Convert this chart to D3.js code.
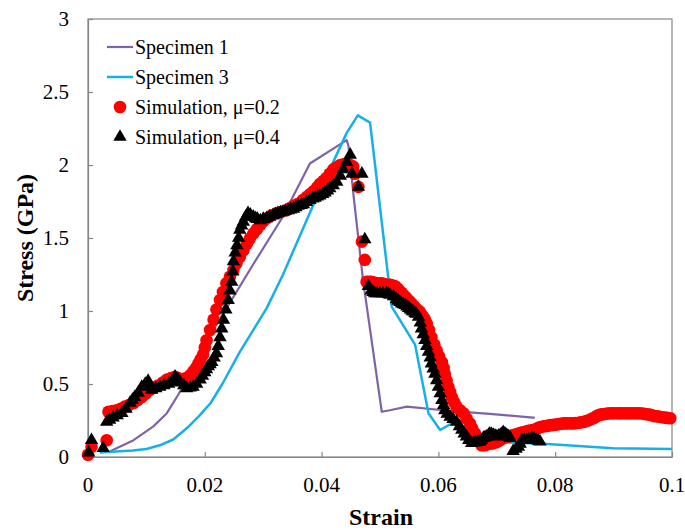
<!DOCTYPE html>
<html><head><meta charset="utf-8">
<script src="https://cdn.jsdelivr.net/npm/d3@7"></script>
<style>body{margin:0;background:#fff}svg{display:block}</style>
</head><body><svg id="c" width="685" height="530"></svg>
<script>
const xTicks=[0,0.02,0.04,0.06,0.08,0.1];
const xTickLabels=["0","0.02","0.04","0.06","0.08","0.1"];
const yTicks=[0,0.5,1,1.5,2,2.5,3];
const yTickLabels=["0","0.5","1","1.5","2","2.5","3"];
const seriesNames=["Specimen 1","Specimen 3","Simulation, \u03bc=0.2","Simulation, \u03bc=0.4"];

const spec1Strain=[0.0038,0.0078,0.0112,0.0135,0.0155,0.018,0.0211,0.0248,0.0283,0.0332,0.038,0.0443,0.0446,0.0455,0.0471,0.0503,0.0517,0.0546,0.0608,0.0688,0.0762,0.0765];
const spec1Stress=[0.04,0.115,0.21,0.30,0.43,0.61,0.85,1.09,1.32,1.635,2.01,2.17,2.13,1.78,1.21,0.31,0.32,0.345,0.32,0.295,0.27,0.27];

const spec3Strain=[0.002,0.004,0.0077,0.01,0.0123,0.0146,0.017,0.019,0.021,0.023,0.026,0.0306,0.0334,0.0385,0.0443,0.0462,0.0483,0.052,0.056,0.0583,0.0603,0.0623,0.0645,0.067,0.072,0.078,0.0899,0.1];
const spec3Stress=[0.03,0.036,0.045,0.055,0.08,0.12,0.2,0.28,0.37,0.5,0.72,1.02,1.25,1.72,2.22,2.34,2.29,1.03,0.77,0.30,0.185,0.23,0.2,0.12,0.1,0.09,0.06,0.055];

const sim02Strain=[0.0,0.0006,0.0032,0.0035,0.0042,0.0049,0.0056,0.0063,0.007,0.0078,0.0085,0.0092,0.0099,0.0106,0.0113,0.012,0.0128,0.0135,0.0142,0.0149,0.0154,0.0158,0.0164,0.0169,0.0175,0.018,0.0185,0.0189,0.0193,0.0197,0.02,0.0203,0.0209,0.0215,0.022,0.0226,0.0231,0.0237,0.0243,0.0249,0.0254,0.026,0.0266,0.0272,0.0277,0.0283,0.0289,0.0295,0.03,0.0306,0.0314,0.0323,0.0331,0.034,0.0346,0.0352,0.0358,0.0363,0.0368,0.0374,0.038,0.0386,0.0392,0.0397,0.0403,0.0408,0.0414,0.042,0.0426,0.0432,0.0437,0.0443,0.0449,0.0454,0.0457,0.0463,0.0469,0.0474,0.0477,0.0481,0.0485,0.049,0.0494,0.0498,0.0503,0.0507,0.0511,0.0515,0.0518,0.0522,0.0526,0.053,0.0533,0.0537,0.054,0.0544,0.0547,0.0551,0.0554,0.0558,0.0561,0.0565,0.0568,0.0571,0.0574,0.0577,0.058,0.0584,0.0588,0.0593,0.0597,0.0601,0.0606,0.0609,0.0611,0.0614,0.0617,0.062,0.0623,0.0627,0.0631,0.0637,0.0643,0.0648,0.0654,0.0658,0.0663,0.0668,0.0674,0.068,0.0686,0.069,0.0694,0.0699,0.0703,0.0707,0.0711,0.0716,0.072,0.0724,0.0728,0.0733,0.0737,0.0741,0.0745,0.075,0.0754,0.0758,0.0762,0.0767,0.0771,0.0775,0.078,0.0784,0.0788,0.0792,0.0797,0.0801,0.0806,0.081,0.0814,0.0818,0.0822,0.0827,0.0831,0.0835,0.084,0.0844,0.0848,0.0852,0.0856,0.0861,0.0865,0.0868,0.0871,0.0874,0.0877,0.0881,0.0885,0.0889,0.0894,0.0898,0.0902,0.0907,0.0911,0.0915,0.092,0.0924,0.0928,0.0932,0.0937,0.0941,0.0945,0.095,0.0954,0.0958,0.0962,0.0966,0.097,0.0975,0.0979,0.0984,0.0988,0.0992,0.0997];
const sim02Stress=[0.015,0.07,0.115,0.31,0.315,0.32,0.33,0.345,0.355,0.37,0.39,0.41,0.435,0.46,0.475,0.49,0.51,0.53,0.54,0.55,0.54,0.53,0.535,0.54,0.56,0.585,0.61,0.64,0.67,0.70,0.75,0.80,0.87,0.94,1.01,1.075,1.13,1.19,1.235,1.28,1.325,1.37,1.415,1.46,1.495,1.53,1.56,1.59,1.615,1.635,1.655,1.67,1.68,1.69,1.705,1.72,1.73,1.74,1.76,1.78,1.80,1.82,1.845,1.87,1.89,1.91,1.94,1.97,1.985,2.0,2.005,2.01,2.0,1.99,1.94,1.85,1.475,1.35,1.20,1.20,1.20,1.195,1.19,1.19,1.19,1.185,1.18,1.18,1.18,1.175,1.17,1.155,1.14,1.125,1.11,1.095,1.08,1.065,1.05,1.035,1.02,1.005,0.995,0.975,0.96,0.94,0.915,0.87,0.82,0.77,0.73,0.69,0.65,0.61,0.57,0.525,0.48,0.445,0.41,0.375,0.345,0.32,0.30,0.265,0.23,0.195,0.16,0.12,0.08,0.08,0.09,0.092,0.095,0.10,0.11,0.12,0.13,0.135,0.14,0.145,0.15,0.155,0.16,0.165,0.17,0.175,0.18,0.182,0.185,0.19,0.2,0.205,0.21,0.212,0.215,0.218,0.22,0.222,0.225,0.228,0.23,0.23,0.23,0.23,0.23,0.232,0.235,0.238,0.24,0.245,0.25,0.258,0.265,0.272,0.28,0.285,0.29,0.292,0.295,0.298,0.30,0.30,0.30,0.30,0.30,0.30,0.30,0.30,0.30,0.30,0.30,0.30,0.30,0.298,0.295,0.292,0.29,0.285,0.28,0.278,0.275,0.272,0.27,0.268,0.265];

const sim04Strain=[0.0001,0.0006,0.0026,0.0032,0.0037,0.0043,0.005,0.0058,0.0065,0.0072,0.0076,0.008,0.0086,0.0092,0.0098,0.0103,0.0106,0.0109,0.0116,0.0123,0.013,0.0138,0.0144,0.0149,0.0154,0.0158,0.0164,0.0169,0.0175,0.018,0.0186,0.0192,0.0196,0.02,0.0203,0.0206,0.0209,0.0212,0.0216,0.022,0.0223,0.0226,0.0229,0.0232,0.0236,0.024,0.0243,0.0246,0.0248,0.0249,0.0252,0.0255,0.0258,0.026,0.0263,0.0266,0.027,0.0274,0.0278,0.0283,0.0287,0.029,0.0295,0.03,0.0306,0.0311,0.0317,0.0321,0.0325,0.033,0.0334,0.0338,0.0343,0.0347,0.0352,0.0356,0.036,0.0365,0.0369,0.0374,0.038,0.0385,0.0389,0.0393,0.0397,0.0402,0.0406,0.041,0.0414,0.042,0.0426,0.0432,0.0437,0.0443,0.0449,0.0452,0.0463,0.0469,0.0474,0.048,0.0485,0.0488,0.0491,0.0495,0.05,0.0505,0.0511,0.0514,0.0517,0.0523,0.0528,0.0531,0.0534,0.0537,0.054,0.0543,0.0546,0.0549,0.0552,0.0555,0.0557,0.056,0.0562,0.0566,0.0569,0.0571,0.0574,0.0577,0.058,0.0583,0.0586,0.0588,0.0591,0.0594,0.0597,0.06,0.0603,0.0606,0.0609,0.0611,0.0615,0.062,0.0625,0.0631,0.0636,0.064,0.0644,0.0648,0.0652,0.0657,0.0661,0.0664,0.0668,0.0671,0.0674,0.0677,0.068,0.0683,0.0686,0.0688,0.0691,0.0694,0.0697,0.07,0.0703,0.0706,0.0709,0.0711,0.0714,0.0717,0.072,0.0723,0.0728,0.0733,0.0737,0.074,0.0743,0.0747,0.0751,0.0755,0.076,0.0764,0.0768,0.0771,0.0774];
const sim04Stress=[0.03,0.115,0.06,0.24,0.255,0.27,0.285,0.30,0.33,0.37,0.39,0.41,0.44,0.48,0.50,0.52,0.49,0.46,0.47,0.48,0.49,0.50,0.52,0.55,0.53,0.51,0.49,0.47,0.475,0.48,0.50,0.53,0.555,0.58,0.60,0.62,0.635,0.65,0.68,0.71,0.76,0.82,0.88,0.94,1.01,1.075,1.14,1.20,1.27,1.34,1.40,1.45,1.50,1.555,1.585,1.61,1.645,1.67,1.66,1.645,1.635,1.63,1.62,1.63,1.635,1.645,1.655,1.662,1.67,1.675,1.68,1.685,1.69,1.695,1.70,1.71,1.72,1.725,1.73,1.745,1.76,1.77,1.775,1.783,1.79,1.80,1.81,1.825,1.84,1.86,1.885,1.925,1.97,2.02,2.07,1.94,1.85,1.94,1.49,1.17,1.14,1.13,1.12,1.12,1.12,1.12,1.12,1.115,1.11,1.10,1.08,1.07,1.06,1.05,1.045,1.04,1.03,1.02,1.01,1.0,0.995,0.985,0.98,0.96,0.92,0.88,0.84,0.80,0.76,0.72,0.68,0.64,0.605,0.57,0.525,0.48,0.435,0.39,0.355,0.32,0.295,0.275,0.26,0.24,0.21,0.185,0.16,0.14,0.115,0.095,0.098,0.1,0.102,0.105,0.115,0.13,0.135,0.14,0.15,0.16,0.155,0.15,0.145,0.14,0.145,0.15,0.16,0.17,0.16,0.15,0.14,0.13,0.04,0.055,0.07,0.09,0.115,0.115,0.115,0.12,0.13,0.125,0.115,0.11,0.105];

const colPurple="#7f63a8", colCyan="#17b0e6", colRed="#ff0000", colBlack="#000000";
const FONT='"Liberation Serif", serif';

const svg=d3.select("#c");
const L=88,R=672,T=19,B=457;
const x=d3.scaleLinear().domain([0,0.1]).range([L,R]);
const y=d3.scaleLinear().domain([0,3]).range([B,T]);

svg.append("rect").attr("x",L).attr("y",T).attr("width",R-L).attr("height",B-T).attr("fill","none").attr("stroke","#868686").attr("stroke-width",1.2);

const gx=svg.append("g").attr("transform",`translate(0,${B})`)
 .call(d3.axisBottom(x).tickValues(xTicks).tickSizeInner(-5).tickSizeOuter(0).tickFormat(""));
const gy=svg.append("g").attr("transform",`translate(${L},0)`)
 .call(d3.axisLeft(y).tickValues(yTicks).tickSizeInner(-5).tickSizeOuter(0).tickFormat(""));
[gx,gy].forEach(g=>{g.selectAll("path,line").attr("stroke","#868686").attr("stroke-width",1.2);});

svg.append("g").selectAll("text").data(xTicks).join("text")
 .attr("x",d=>x(d)).attr("y",492).attr("text-anchor","middle")
 .style("font-family",FONT).style("font-size","21px").style("fill","#000")
 .text((d,i)=>xTickLabels[i]);
svg.append("g").selectAll("text").data(yTicks).join("text")
 .attr("x",69).attr("y",d=>y(d)).attr("dy","0.34em").attr("text-anchor","end")
 .style("font-family",FONT).style("font-size","21px").style("fill","#000")
 .text((d,i)=>yTickLabels[i]);

svg.append("text").attr("x",381).attr("y",525).attr("text-anchor","middle")
 .style("font-family",FONT).style("font-size","24px").style("font-weight","bold").text("Strain");
svg.append("text").attr("transform",`translate(33,${(T+B)/2}) rotate(-90)`).attr("text-anchor","middle")
 .style("font-family",FONT).style("font-size","24px").style("font-weight","bold").text("Stress (GPa)");

const line=d3.line().x(d=>x(d[0])).y(d=>y(d[1]));
const zip=(a,b)=>a.map((v,i)=>[v,b[i]]);

svg.append("path").datum(zip(spec1Strain,spec1Stress)).attr("d",line).attr("fill","none").attr("stroke",colPurple).attr("stroke-width",2.2).attr("stroke-linejoin","round");
svg.append("path").datum(zip(spec3Strain,spec3Stress)).attr("d",line).attr("fill","none").attr("stroke",colCyan).attr("stroke-width",2.5).attr("stroke-linejoin","round");

svg.append("g").selectAll("circle").data(zip(sim02Strain,sim02Stress)).join("circle")
 .attr("cx",d=>x(d[0])).attr("cy",d=>y(d[1])).attr("r",6.3).attr("fill",colRed);
const tri=d3.symbol().type(d3.symbolTriangle).size(78);
svg.append("g").selectAll("path").data(zip(sim04Strain,sim04Stress)).join("path")
 .attr("transform",d=>`translate(${x(d[0])},${y(d[1])})`).attr("d",tri).attr("fill",colBlack);

const lg=svg.append("g");
const ly=[47,77,107,137];
lg.append("line").attr("x1",107).attr("x2",133).attr("y1",ly[0]).attr("y2",ly[0]).attr("stroke",colPurple).attr("stroke-width",2.2);
lg.append("line").attr("x1",107).attr("x2",133).attr("y1",ly[1]).attr("y2",ly[1]).attr("stroke",colCyan).attr("stroke-width",2.5);
lg.append("circle").attr("cx",120).attr("cy",ly[2]).attr("r",6.3).attr("fill",colRed);
lg.append("path").attr("transform",`translate(120,${ly[3]})`).attr("d",tri).attr("fill",colBlack);
lg.selectAll("text").data(seriesNames).join("text").attr("x",135).attr("y",(d,i)=>ly[i]).attr("dy","0.33em")
 .style("font-family",FONT).style("font-size","20px").style("fill","#000").text(d=>d);
</script></body></html>
